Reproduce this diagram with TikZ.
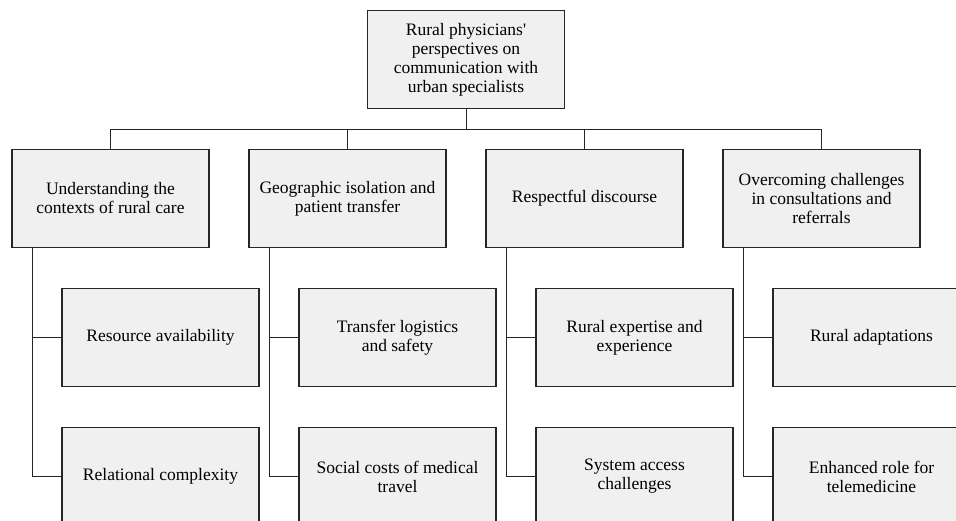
\documentclass[tikz,border=0pt]{standalone}
\usepackage{fontspec}
\setmainfont{Liberation Serif}
\usetikzlibrary{calc}
\definecolor{boxfill}{HTML}{F0F0F0}
\definecolor{boxline}{HTML}{262626}
\tikzset{box/.style={draw=boxline, fill=boxfill, rectangle, line width=1.3pt, minimum width=197pt, minimum height=98pt, inner sep=0pt, align=center, font=\fontsize{17.5}{19}\selectfont}}
\tikzset{line/.style={draw=boxline, line width=1pt}}

\begin{document}
\begin{tikzpicture}[x=1pt,y=1pt]
\useasboundingbox (0,0) rectangle (956,-521);

\node [box] (root) at (466,-59.5) {Rural physicians\textquotesingle\\perspectives on\\communication with\\urban specialists};

%THEMES
\node [box] (context) at (110.5,-198.5) {Understanding the\\contexts of rural care};
\node [box, right of=context, node distance=237pt] (isolation) {Geographic isolation and\\patient transfer};
\node [box, right of=isolation, node distance=237pt] (discourse) {Respectful discourse};
\node [box, right of=discourse, node distance=237pt] (challenges) {Overcoming challenges\\in consultations and\\referrals};

%SUBTHEMES
\node [box, below of=context, node distance=139pt, xshift=50pt] (resources) {Resource availability};
\node [box, below of=resources, node distance=139pt] (relational) {Relational complexity};
\node [box, below of=isolation, node distance=139pt, xshift=50pt] (logistics) {Transfer logistics\\and safety};
\node [box, below of=logistics, node distance=139pt] (travel) {Social costs of medical\\travel};
\node [box, below of=discourse, node distance=139pt, xshift=50pt] (expertise) {Rural expertise and\\experience};
\node [box, below of=expertise, node distance=139pt] (access) {System access\\challenges};
\node [box, below of=challenges, node distance=139pt, xshift=50pt] (adaptations) {Rural adaptations};
\node [box, below of=adaptations, node distance=139pt] (telemedicine) {Enhanced role for\\telemedicine};

%ROOT TO THEMES
\path [line] (root.south) -- ++(0,-20.5) -| (context.north);
\path [line] (root.south) -- ++(0,-20.5) -| (isolation.north);
\path [line] (root.south) -- ++(0,-20.5) -| (discourse.north);
\path [line] (root.south) -- ++(0,-20.5) -| (challenges.north);

%THEMES TO SUBTHEMES
\path [line] ($(context.south west)+(21,0)$) |- (resources.west);
\path [line] ($(context.south west)+(21,0)$) |- (relational.west);
\path [line] ($(isolation.south west)+(21,0)$) |- (logistics.west);
\path [line] ($(isolation.south west)+(21,0)$) |- (travel.west);
\path [line] ($(discourse.south west)+(21,0)$) |- (expertise.west);
\path [line] ($(discourse.south west)+(21,0)$) |- (access.west);
\path [line] ($(challenges.south west)+(21,0)$) |- (adaptations.west);
\path [line] ($(challenges.south west)+(21,0)$) |- (telemedicine.west);

\end{tikzpicture}
\end{document}
